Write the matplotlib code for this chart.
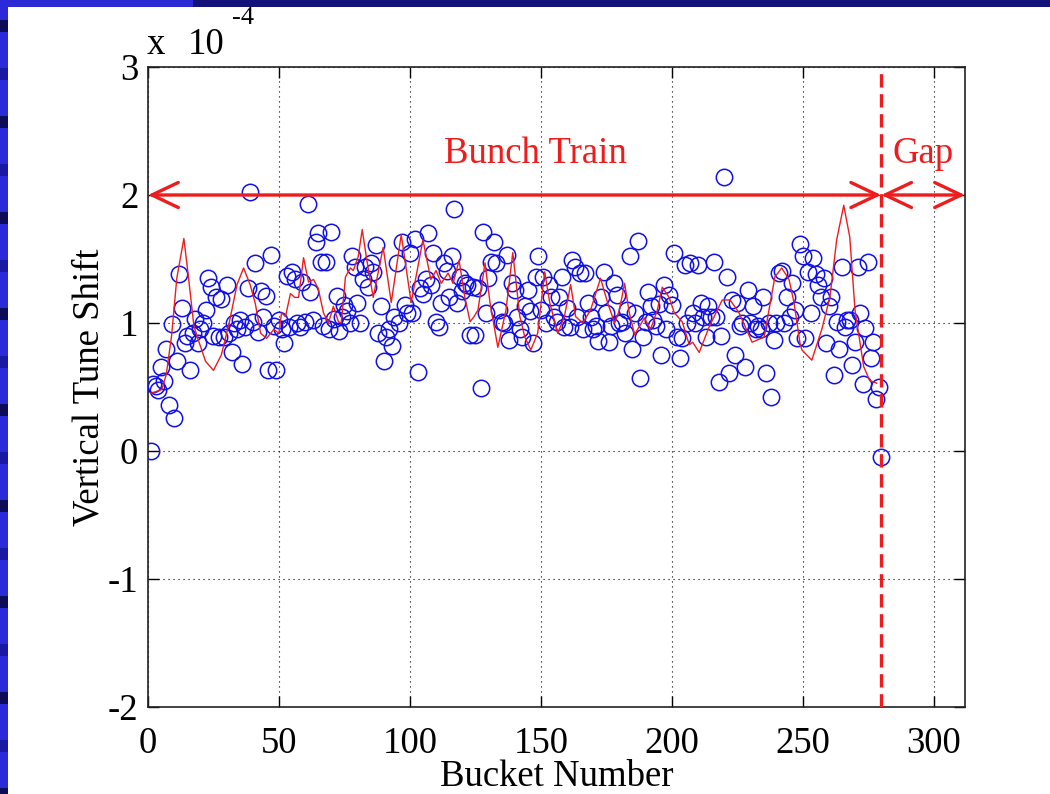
import matplotlib
matplotlib.use("Agg")
import matplotlib.pyplot as plt
import numpy as np
from matplotlib.patches import Rectangle, FancyArrowPatch

# ---- data (values in units of 1e-4) ----
tune_shift = [
    0.00, 0.52, 0.51, 0.48, 0.66, 0.55, 0.80, 0.36, 0.99, 0.26,
    0.70, 1.38, 1.12, 0.84, 0.90, 0.63, 0.92, 1.03, 0.84, 0.95,
    1.00, 1.10, 1.35, 1.28, 0.90, 1.20, 0.89, 1.19, 0.89, 1.30,
    0.92, 0.77, 1.00, 0.95, 1.02, 0.68, 0.97, 1.27, 2.02, 1.01,
    1.47, 0.93, 1.25, 1.05, 1.21, 0.63, 1.53, 0.98, 0.63, 1.02,
    0.95, 0.84, 1.37, 0.97, 1.40, 1.34, 1.00, 0.97, 1.32, 1.01,
    1.93, 1.24, 1.02, 1.63, 1.70, 1.48, 0.98, 1.48, 0.95, 1.71,
    1.03, 1.21, 0.94, 1.05, 1.14, 1.09, 1.00, 1.52, 1.44, 1.16,
    1.00, 1.34, 1.44, 1.28, 1.47, 1.40, 1.61, 0.92, 1.13, 0.70,
    0.89, 0.95, 0.82, 1.05, 1.47, 1.00, 1.63, 1.14, 1.08, 1.55,
    1.08, 1.66, 0.62, 1.27, 1.23, 1.34, 1.70, 1.30, 1.55, 1.01,
    0.97, 1.16, 1.47, 1.41, 1.20, 1.52, 1.89, 1.16, 1.36, 1.25,
    1.31, 1.30, 0.91, 1.28, 0.91, 1.27, 0.49, 1.71, 1.08, 1.35,
    1.48, 1.63, 1.47, 1.10, 1.01, 1.00, 1.53, 0.87, 1.31, 1.26,
    1.05, 0.95, 0.89, 1.13, 1.26, 1.09, 0.84, 1.36, 1.52, 1.10,
    1.36, 1.00, 1.30, 1.20, 1.05, 1.01, 1.20, 1.36, 0.97, 1.12,
    0.97, 1.49, 1.44, 1.05, 1.39, 0.95, 1.39, 1.16, 1.05, 0.95,
    0.98, 0.86, 1.20, 1.40, 1.08, 0.85, 0.98, 1.31, 1.22, 1.00,
    1.01, 0.92, 1.10, 1.52, 0.80, 1.08, 1.64, 0.57, 0.89, 1.01,
    1.24, 1.13, 1.02, 0.98, 1.15, 0.75, 1.30, 0.95, 1.22, 1.14,
    1.55, 0.89, 0.73, 0.88, 1.45, 1.00, 1.47, 1.08, 1.00, 1.45,
    1.16, 1.05, 0.89, 1.13, 1.05, 1.48, 1.05, 0.54, 0.90, 2.14,
    1.36, 0.61, 1.18, 0.75, 1.16, 0.98, 1.00, 0.66, 1.26, 1.00,
    1.13, 0.95, 0.98, 0.95, 1.20, 0.61, 1.00, 0.42, 0.87, 1.00,
    1.39, 1.41, 1.00, 1.20, 1.05, 1.31, 1.10, 0.88, 1.62, 1.52,
    0.88, 1.40, 1.08, 1.51, 1.38, 1.30, 1.20, 1.35, 0.84, 1.13,
    1.20, 0.59, 1.01, 0.80, 1.44, 0.97, 1.02, 1.02, 0.67, 0.85,
    1.44, 1.08, 0.52, 0.96, 1.48, 0.73, 0.85, 0.41, 0.50, -0.05,
]
buckets = np.arange(1, len(tune_shift) + 1)

model_bucket = [
    1, 5.3, 7, 9, 11, 13.7, 15.5, 17.5, 19, 22, 25, 28, 31, 34, 36.5, 39, 41,
    43, 45.3, 48, 50, 51, 52.5, 54.4, 56, 57.5, 59.4, 61.3, 63.2, 65, 67, 68.9,
    70.8, 72.7, 73.8, 75.4, 77.3, 78.4, 80.3, 81.8, 83.5, 86, 89.8, 92.9, 96.7,
    100.5, 105, 108, 110, 112, 114.6, 116.5, 118.8, 121, 123, 124.5, 126,
    128.7, 130.6, 133.6, 136.7, 139.3, 142, 143.9, 146.2, 148.8, 151.5, 153.4,
    156.5, 159, 161.4, 163.3, 166, 169, 172.8, 175.5, 178.2, 180, 182, 183.8,
    185.8, 189.6, 191.9, 194.5, 196.4, 199, 201, 204, 206.7, 208, 210.5,
    214.3, 219.3, 222.3, 225.7, 230.7, 235.3, 239.4, 242, 244.8, 246.7, 249,
    249.7, 253.5, 257.3, 260.4, 263, 265.7, 268, 270, 273.3, 275.6, 278.3,
]
model_shift = [
    0.45, 0.48, 0.60, 0.90, 1.35, 1.66, 1.35, 0.98, 0.88, 0.70, 0.63, 0.75,
    1.00, 1.30, 1.43, 1.30, 1.15, 0.92, 0.88, 0.95, 0.92, 1.08, 1.05, 1.23,
    1.20, 1.20, 1.51, 1.32, 1.34, 1.27, 1.08, 1.00, 1.13, 1.01, 1.00, 1.36,
    1.43, 1.41, 1.52, 1.73, 1.50, 1.20, 1.59, 1.16, 1.69, 1.16, 1.65, 1.34,
    1.41, 1.31, 1.39, 1.31, 1.49, 1.20, 1.01, 1.05, 1.10, 1.47, 1.16, 0.81,
    1.10, 1.55, 1.05, 0.89, 0.79, 0.92, 1.40, 1.16, 0.92, 1.05, 1.30, 1.05,
    1.00, 1.10, 1.35, 1.16, 1.00, 1.10, 1.31, 1.08, 0.91, 1.04, 0.95, 1.10,
    1.28, 1.20, 1.08, 1.01, 0.83, 0.85, 0.77, 0.97, 1.18, 1.18, 1.08, 0.85,
    0.89, 1.36, 1.43, 1.34, 1.16, 0.84, 0.79, 0.71, 0.95, 1.20, 1.65, 1.92,
    1.67, 1.10, 0.66, 0.55, 0.53,
]

train_end = 280
x_max = 312
xticks = [0, 50, 100, 150, 200, 250, 300]
yticks = [-2, -1, 0, 1, 2, 3]

SERIF = "Liberation Serif"
FS = 26.5
RED = "#ee1c1c"
BLUE = "#1010e8"

fig = plt.figure(figsize=(10.5, 7.94), dpi=100)
fig.patch.set_facecolor("white")

# slide decoration: top bar and left stripe
fig.add_artist(Rectangle((0, 1 - 7 / 794), 1, 7 / 794, transform=fig.transFigure,
                         facecolor="#12127a", edgecolor="none"))
fig.add_artist(Rectangle((0, 1 - 7 / 794), 193 / 1050, 7 / 794, transform=fig.transFigure,
                         facecolor="#2b2bd6", edgecolor="none"))
fig.add_artist(Rectangle((0, 0), 8 / 1050, 1, transform=fig.transFigure,
                         facecolor="#2a2ad8", edgecolor="none"))
for k, yb in enumerate(range(20, 794, 48)):
    fig.add_artist(Rectangle((0, 1 - (yb + 12) / 794), 8 / 1050, 12 / 794,
                             transform=fig.transFigure,
                             facecolor="#0c0c58" if k % 2 == 0 else "#1a1aa0",
                             edgecolor="none"))

ax = fig.add_axes([148 / 1050, 1 - 707 / 794, (965 - 148) / 1050, 640 / 794])
ax.set_xlim(0, x_max)
ax.set_ylim(-2, 3)
ax.set_xticks(xticks)
ax.set_yticks(yticks)
ax.set_xticklabels([str(t) for t in xticks], fontfamily=SERIF, fontsize=FS)
ax.set_yticklabels([str(t) for t in yticks], fontfamily=SERIF, fontsize=FS)
ax.tick_params(direction="in", length=8, width=1, top=True, right=True,
               labeltop=False, labelright=False)
ax.tick_params(axis="x", pad=14)
ax.tick_params(axis="y", pad=7)
for sp in ax.spines.values():
    sp.set_linewidth(1.2)
    sp.set_color("#222222")
ax.grid(True, color="black", linestyle=(0, (1, 3.5)), linewidth=0.8)
ax.set_axisbelow(True)

ax.plot(buckets, tune_shift, linestyle="none", marker="o", markersize=11.8,
        markerfacecolor="none", markeredgecolor=BLUE, markeredgewidth=1.1, zorder=3)
ax.plot(model_bucket, model_shift, color=RED, linewidth=1.0, zorder=4)

ax.axvline(train_end, color=RED, linewidth=2.4, linestyle=(0, (4, 2)), zorder=5)

arrow_kw = dict(arrowstyle="<->,head_length=19,head_width=9", mutation_scale=1,
                color=RED, linewidth=2.4, shrinkA=0, shrinkB=0, zorder=5, clip_on=False)
ax.add_patch(FancyArrowPatch((0, 2), (train_end, 2), **arrow_kw))
ax.add_patch(FancyArrowPatch((train_end, 2), (x_max, 2), **arrow_kw))

ax.text(148, 2.32, "Bunch Train", color=RED, fontfamily=SERIF, fontsize=FS,
        ha="center", va="center")
ax.text(296, 2.32, "Gap", color=RED, fontfamily=SERIF, fontsize=FS,
        ha="center", va="center")

ax.set_xlabel("Bucket Number", fontfamily=SERIF, fontsize=FS, labelpad=-1)
ax.set_ylabel("Vertical Tune Shift", fontfamily=SERIF, fontsize=FS, labelpad=1)

fig.text(147 / 1050, 1 - 45 / 794, "x", fontfamily=SERIF, fontsize=FS,
         ha="left", va="center")
fig.text(188 / 1050, 1 - 45 / 794, "10", fontfamily=SERIF, fontsize=FS,
         ha="left", va="center")
fig.text(232 / 1050, 1 - 18 / 794, "-4", fontfamily=SERIF, fontsize=19,
         ha="left", va="center")

fig.savefig("out.png", dpi=100, facecolor="white")
